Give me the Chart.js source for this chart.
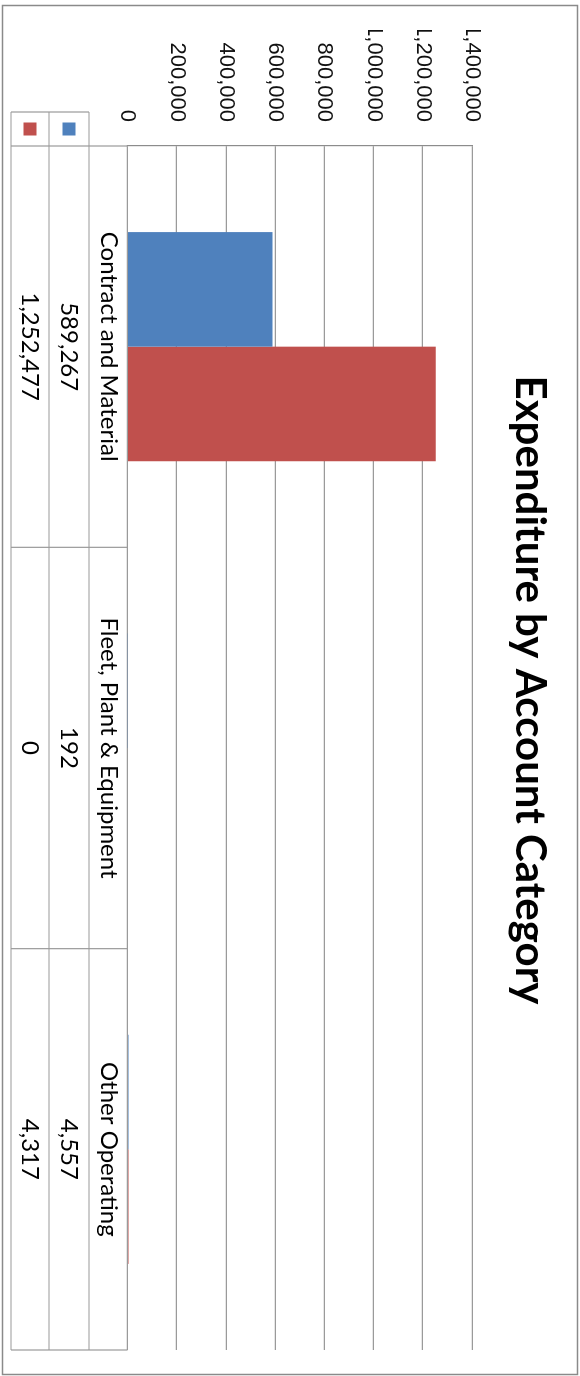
<!DOCTYPE html>
<html>
<head>
<meta charset="utf-8">
<title>Expenditure by Account Category</title>
<script src="https://cdn.jsdelivr.net/npm/chart.js@4.4.1/dist/chart.umd.min.js"></script>
<style>
    html, body { margin: 0; padding: 0; background: #fff; overflow: hidden; }
    /* the chart is drawn landscape and turned a quarter turn clockwise */
    #wrap {
        position: absolute;
        left: 0;
        top: 0;
        width: 1376px;
        height: 580px;
        transform-origin: 0 0;
        transform: translateX(580px) rotate(90deg);
    }
</style>
</head>
<body>
<div id="wrap"><canvas id="expChart" width="1376" height="580"></canvas></div>
<script>
const categories = ['Contract and Material', 'Fleet, Plant & Equipment', 'Other Operating'];
const blueValues = [589267, 192, 4557];
const redValues = [1252477, 0, 4317];
const valueTicks = [0, 200000, 400000, 600000, 800000, 1000000, 1200000, 1400000];

const BLUE = '#4F81BD';
const RED = '#C0504D';
const LINE = '#9a9a9a';

function fmt(v) {
    return v.toLocaleString('en-US');
}

/**
 * White background, outer frame and the data table under the plot
 */
const dataTablePlugin = {
    id: 'dataTable',
    beforeDraw(chart) {
        const { ctx, width, height } = chart;
        ctx.save();
        ctx.fillStyle = '#fff';
        ctx.fillRect(0, 0, width, height);
        ctx.strokeStyle = '#8a8a8a';
        ctx.lineWidth = 1.5;
        ctx.strokeRect(5.5, 2.5, 1369, 575);
        ctx.restore();
    },
    afterDraw(chart) {
        const { ctx, chartArea } = chart;
        const xs = chart.scales.x;
        const top = chartArea.bottom;
        const rows = [top, top + 38.5, top + 78.5, top + 116.5];
        const keyLeft = chartArea.left - 34;

        const bounds = [chartArea.left];
        for (let i = 0; i < categories.length - 1; i++) {
            bounds.push((xs.getPixelForValue(i) + xs.getPixelForValue(i + 1)) / 2);
        }
        bounds.push(chartArea.right);

        ctx.save();
        ctx.strokeStyle = LINE;
        ctx.lineWidth = 1.2;
        ctx.beginPath();
        // row separators and bottom edge
        for (let r = 1; r < rows.length; r++) {
            ctx.moveTo(keyLeft, rows[r]);
            ctx.lineTo(chartArea.right, rows[r]);
        }
        // column separators
        bounds.forEach(b => {
            ctx.moveTo(b, rows[0]);
            ctx.lineTo(b, rows[3]);
        });
        // legend key box
        ctx.moveTo(keyLeft, rows[1]);
        ctx.lineTo(keyLeft, rows[3]);
        ctx.stroke();

        // legend keys
        const keyX = (keyLeft + chartArea.left) / 2;
        ctx.fillStyle = BLUE;
        ctx.fillRect(keyX - 6.5, (rows[1] + rows[2]) / 2 - 6.5, 13, 13);
        ctx.fillStyle = RED;
        ctx.fillRect(keyX - 6.5, (rows[2] + rows[3]) / 2 - 6.5, 13, 13);

        // cell text
        ctx.fillStyle = '#000';
        ctx.textAlign = 'center';
        ctx.textBaseline = 'middle';
        ctx.font = '24px Lato';
        categories.forEach((c, i) => {
            const cx = xs.getPixelForValue(i);
            ctx.fillText(c, cx, (rows[0] + rows[1]) / 2);
            ctx.fillText(fmt(blueValues[i]), cx, (rows[1] + rows[2]) / 2);
            ctx.fillText(fmt(redValues[i]), cx, (rows[2] + rows[3]) / 2);
        });
        ctx.restore();
    },
};

const ctx = document.getElementById('expChart');

new Chart(ctx, {
    type: 'bar',
    data: {
        labels: categories,
        datasets: [
            {
                label: 'Series 1',
                data: blueValues,
                backgroundColor: BLUE,
                borderWidth: 0,
            },
            {
                label: 'Series 2',
                data: redValues,
                backgroundColor: RED,
                borderWidth: 0,
            },
        ],
    },
    options: {
        responsive: false,
        animation: false,
        devicePixelRatio: 1,
        categoryPercentage: 0.571,
        barPercentage: 1.0,
        layout: {
            padding: { left: 30, right: 26, top: 10, bottom: 127.5 },
        },
        plugins: {
            legend: { display: false },
            tooltip: { enabled: false },
            title: {
                display: true,
                text: 'Expenditure by Account Category',
                color: '#000',
                font: { family: 'Lato', size: 42, weight: 'bold', lineHeight: 1.2 },
                padding: { top: 15, bottom: 32.6 },
            },
        },
        scales: {
            x: {
                display: false,
            },
            y: {
                min: 0,
                max: 1400000,
                afterBuildTicks: s => {
                    s.ticks = valueTicks.map(v => ({ value: v }));
                },
                afterFit: s => {
                    s.width = 116;
                },
                border: { display: true, color: '#8c8c8c', width: 1.2 },
                grid: { color: LINE, lineWidth: 1.2, drawTicks: false },
                ticks: {
                    padding: 24,
                    color: '#111',
                    font: { family: 'Liberation Sans', size: 22 },
                    callback: v => fmt(v),
                },
            },
        },
    },
    plugins: [dataTablePlugin],
});
</script>
</body>
</html>
